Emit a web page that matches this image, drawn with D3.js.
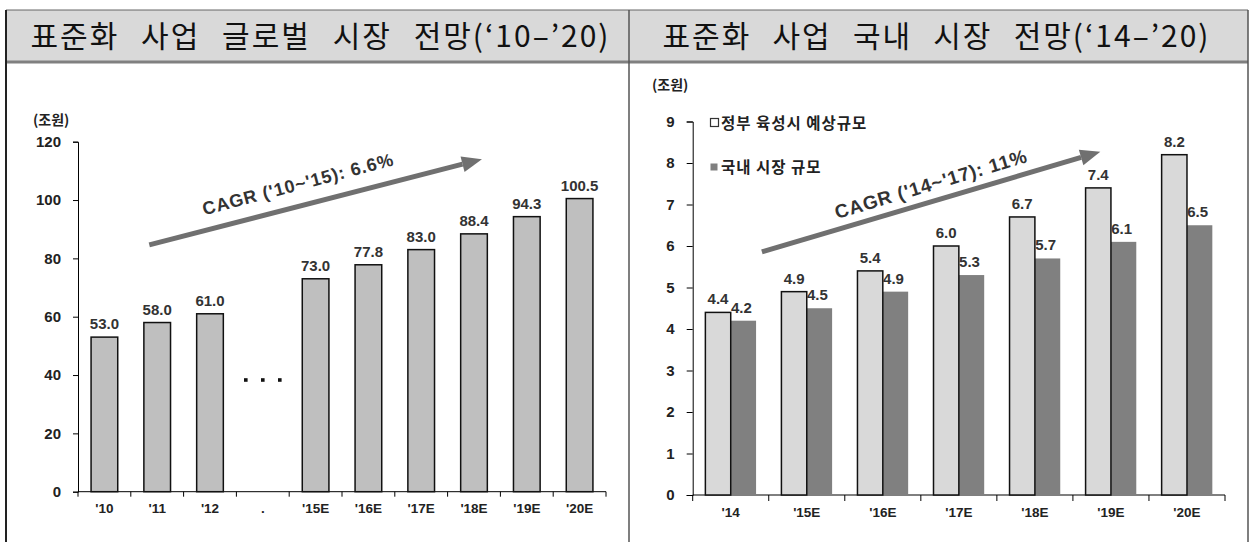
<!DOCTYPE html>
<html>
<head>
<meta charset="utf-8">
<script src="https://cdn.jsdelivr.net/npm/d3@7"></script>
<style>
  body { margin: 0; background: #fff; }
  svg text { font-family: "Liberation Sans", Arial, sans-serif; }
  .kr { font-family: "Noto Sans CJK KR", "Noto Sans", sans-serif; }
</style>
</head>
<body>
<script>
//Left chart data (global market)
var globalCats = ["'10", "'11", "'12", ".", "'15E", "'16E", "'17E", "'18E", "'19E", "'20E"];
var globalVals = [53.0, 58.0, 61.0, null, 73.0, 77.8, 83.0, 88.4, 94.3, 100.5];
var globalTicks = [0, 20, 40, 60, 80, 100, 120];

//Right chart data (domestic market)
var domCats = ["'14", "'15E", "'16E", "'17E", "'18E", "'19E", "'20E"];
var domPlan = [4.4, 4.9, 5.4, 6.0, 6.7, 7.4, 8.2];
var domMarket = [4.2, 4.5, 4.9, 5.3, 5.7, 6.1, 6.5];
var domTicks = [0, 1, 2, 3, 4, 5, 6, 7, 8, 9];

//Titles and legend
var titles = ["표준화 사업 글로벌 시장 전망(‘10–’20)", "표준화 사업 국내 시장 전망(‘14–’20)"];
var legendNames = ["정부 육성시 예상규모", "국내 시장 규모"];

//Define SVG
var W = 1250, H = 542;
var svg = d3.select("body").append("svg")
    .attr("width", W)
    .attr("height", H);

//Frame and header
var headTop = 10, headBot = 62, leftEdge = 6, midX = 629, rightEdge = 1248;
svg.append("rect")
    .attr("x", leftEdge).attr("y", headTop)
    .attr("width", rightEdge - leftEdge).attr("height", headBot - headTop)
    .attr("fill", "#d9d9d9");
svg.append("line")
    .attr("x1", leftEdge).attr("x2", rightEdge).attr("y1", headTop).attr("y2", headTop)
    .attr("stroke", "#666").attr("stroke-width", 1);
svg.append("line")
    .attr("x1", leftEdge).attr("x2", rightEdge).attr("y1", headBot).attr("y2", headBot)
    .attr("stroke", "#808080").attr("stroke-width", 3);
[leftEdge, midX, rightEdge].forEach(function(x, i) {
  svg.append("line")
      .attr("x1", x).attr("x2", x).attr("y1", headTop).attr("y2", H)
      .attr("stroke", i == 0 ? "#222" : "#555").attr("stroke-width", i == 0 ? 2 : 1.5);
});
//Title texts, word spacing stretched to the wanted width
var titleCx = [(leftEdge + midX) / 2 + 3, (midX + rightEdge) / 2 - 2];
var titleLen = [580, 548];
titles.forEach(function(t, i) {
  var tt = svg.append("text")
      .attr("class", "kr")
      .attr("x", titleCx[i]).attr("y", 47)
      .attr("text-anchor", "middle")
      .attr("font-size", 30)
      .attr("letter-spacing", 2)
      .attr("fill", "#111")
      .text(t);
  var nat = tt.node().getComputedTextLength();
  var nSp = t.split(" ").length - 1;
  tt.attr("word-spacing", Math.max(0, (titleLen[i] - nat) / nSp));
});

//Arrow drawing helper
function drawArrow(g, x0, y0, x1, y1) {
  var ang = Math.atan2(y1 - y0, x1 - x0);
  var hl = 20, hw = 8;
  var bx = x1 - hl * Math.cos(ang), by = y1 - hl * Math.sin(ang);
  g.append("line")
      .attr("x1", x0).attr("y1", y0).attr("x2", bx).attr("y2", by)
      .attr("stroke", "#707070").attr("stroke-width", 5);
  var px = -Math.sin(ang) * hw, py = Math.cos(ang) * hw;
  g.append("path")
      .attr("d", "M" + x1 + "," + y1 + "L" + (bx + px) + "," + (by + py) + "L" + (bx - px) + "," + (by - py) + "Z")
      .attr("fill", "#707070");
}

// ---------------- Left chart ----------------
var gL = svg.append("g");
var xL = d3.scaleBand().domain(globalCats).range([78, 606]).padding(0);
var xLi = d3.scaleLinear().domain([0, globalCats.length]).range([78, 606]);
var yL = d3.scaleLinear().domain([0, 120]).range([491.7, 141.7]);

//Y axis
gL.append("g")
    .attr("transform", "translate(78,0)")
    .call(d3.axisLeft(yL).tickValues(globalTicks).tickSize(5).tickPadding(12))
    .call(function(g) {
      g.select(".domain").attr("stroke", "#000");
      g.selectAll("text").attr("font-size", 15).attr("font-weight", "bold").attr("fill", "#222")
          .attr("font-family", "Liberation Sans, Arial, sans-serif");
    });
//X axis line with boundary ticks
gL.append("line")
    .attr("x1", 78).attr("x2", 606).attr("y1", yL(0)).attr("y2", yL(0))
    .attr("stroke", "#000");
gL.selectAll(".xtick")
    .data(d3.range(globalCats.length + 1))
    .enter().append("line")
    .attr("x1", function(d) { return xLi(d); })
    .attr("x2", function(d) { return xLi(d); })
    .attr("y1", yL(0)).attr("y2", yL(0) + 5)
    .attr("stroke", "#000");
gL.selectAll(".xlab")
    .data(globalCats)
    .enter().append("text")
    .attr("x", function(d) { return xL(d) + xL.bandwidth() / 2; })
    .attr("y", 513)
    .attr("text-anchor", "middle")
    .attr("font-size", 13.5).attr("font-weight", "bold").attr("fill", "#222")
    .text(function(d) { return d; });

//Bars
var bwL = xL.bandwidth() * 0.505;
var leftData = globalCats.map(function(c, i) { return {cat: c, v: globalVals[i]}; })
    .filter(function(d) { return d.v != null; });
gL.selectAll(".bar")
    .data(leftData)
    .enter().append("rect")
    .attr("x", function(d) { return xL(d.cat) + (xL.bandwidth() - bwL) / 2; })
    .attr("y", function(d) { return yL(d.v); })
    .attr("width", bwL)
    .attr("height", function(d) { return yL(0) - yL(d.v); })
    .attr("fill", "#bfbfbf").attr("stroke", "#111").attr("stroke-width", 1.5);
gL.selectAll(".val")
    .data(leftData)
    .enter().append("text")
    .attr("x", function(d) { return xL(d.cat) + xL.bandwidth() / 2; })
    .attr("y", function(d) { return yL(d.v) - 8; })
    .attr("text-anchor", "middle")
    .attr("font-size", 15).attr("font-weight", "bold").attr("fill", "#333")
    .text(function(d) { return d.v.toFixed(1); });

//Break dots in the gap
var gapC = xL(".") + xL.bandwidth() / 2;
gL.selectAll(".dot")
    .data([-17, 0, 17])
    .enter().append("rect")
    .attr("x", function(d) { return gapC + d - 1.8; })
    .attr("y", yL(38.3) - 1.8)
    .attr("width", 3.6).attr("height", 3.6)
    .attr("fill", "#111");

//Unit
gL.append("text")
    .attr("class", "kr")
    .attr("x", 33).attr("y", 125)
    .attr("font-size", 14).attr("font-weight", "bold").attr("fill", "#222")
    .text("(조원)");

//CAGR arrow
drawArrow(gL, xLi(1.35), yL(84.6), xLi(7.65), yL(114));
gL.append("text")
    .attr("transform", "translate(298,184) rotate(-14.8)")
    .attr("text-anchor", "middle")
    .attr("dy", "0.35em")
    .attr("font-size", 18).attr("font-weight", "bold").attr("fill", "#333")
    .attr("letter-spacing", 0.8)
    .text("CAGR ('10~'15): 6.6%");

// ---------------- Right chart ----------------
var gR = svg.append("g");
var xR = d3.scaleBand().domain(domCats).range([692.7, 1225]).padding(0);
var xRi = d3.scaleLinear().domain([0, domCats.length]).range([692.7, 1225]);
var yR = d3.scaleLinear().domain([0, 9]).range([495, 121.5]);

gR.append("g")
    .attr("transform", "translate(692.7,0)")
    .call(d3.axisLeft(yR).tickValues(domTicks).tickSize(6).tickPadding(12))
    .call(function(g) {
      g.select(".domain").attr("stroke", "#000");
      g.selectAll("text").attr("font-size", 15).attr("font-weight", "bold").attr("fill", "#222")
          .attr("font-family", "Liberation Sans, Arial, sans-serif");
    });
gR.append("line")
    .attr("x1", 692.7).attr("x2", 1225).attr("y1", yR(0)).attr("y2", yR(0))
    .attr("stroke", "#000");
gR.selectAll(".xtick")
    .data(d3.range(domCats.length + 1))
    .enter().append("line")
    .attr("x1", function(d) { return xRi(d); })
    .attr("x2", function(d) { return xRi(d); })
    .attr("y1", yR(0)).attr("y2", yR(0) + 6)
    .attr("stroke", "#000");
gR.selectAll(".xlab")
    .data(domCats)
    .enter().append("text")
    .attr("x", function(d) { return xR(d) + xR.bandwidth() / 2; })
    .attr("y", 517)
    .attr("text-anchor", "middle")
    .attr("font-size", 13.5).attr("font-weight", "bold").attr("fill", "#222")
    .text(function(d) { return d; });

//Grouped bars
var bwR = xR.bandwidth() / 3;
var rightData = domCats.map(function(c, i) { return {cat: c, plan: domPlan[i], mkt: domMarket[i]}; });
var grp = gR.selectAll(".grp")
    .data(rightData)
    .enter().append("g");
grp.append("rect")
    .attr("x", function(d) { return xR(d.cat) + xR.bandwidth() / 2; })
    .attr("y", function(d) { return yR(d.mkt); })
    .attr("width", bwR)
    .attr("height", function(d) { return yR(0) - yR(d.mkt); })
    .attr("fill", "#808080");
grp.append("rect")
    .attr("x", function(d) { return xR(d.cat) + xR.bandwidth() / 2 - bwR; })
    .attr("y", function(d) { return yR(d.plan); })
    .attr("width", bwR)
    .attr("height", function(d) { return yR(0) - yR(d.plan); })
    .attr("fill", "#d9d9d9").attr("stroke", "#111").attr("stroke-width", 1.5);
grp.append("text")
    .attr("x", function(d) { return xR(d.cat) + xR.bandwidth() / 2 - bwR / 2; })
    .attr("y", function(d) { return yR(d.plan) - 8; })
    .attr("text-anchor", "middle")
    .attr("font-size", 15).attr("font-weight", "bold").attr("fill", "#333")
    .text(function(d) { return d.plan.toFixed(1); });
grp.append("text")
    .attr("x", function(d) { return xR(d.cat) + xR.bandwidth() / 2 + bwR / 2 - 2; })
    .attr("y", function(d) { return yR(d.mkt) - 8; })
    .attr("text-anchor", "middle")
    .attr("font-size", 15).attr("font-weight", "bold").attr("fill", "#333")
    .text(function(d) { return d.mkt.toFixed(1); });

//Unit
gR.append("text")
    .attr("class", "kr")
    .attr("x", 652).attr("y", 90)
    .attr("font-size", 14).attr("font-weight", "bold").attr("fill", "#222")
    .text("(조원)");

//Legend
var legY = [123, 167];
legendNames.forEach(function(n, i) {
  if (i == 0) {
    gR.append("rect").attr("x", 710.5).attr("y", legY[i] - 4.5).attr("width", 8).attr("height", 8)
        .attr("fill", "#fff").attr("stroke", "#333").attr("stroke-width", 1.2);
  } else {
    gR.append("rect").attr("x", 710.5).attr("y", legY[i] - 3.5).attr("width", 7).attr("height", 7)
        .attr("fill", "#808080");
  }
  gR.append("text")
      .attr("class", "kr")
      .attr("x", 721).attr("y", legY[i] + 5.5)
      .attr("font-size", 15.5).attr("font-weight", "bold").attr("fill", "#222")
      .attr("letter-spacing", 1)
      .text(n);
});

//CAGR arrow
drawArrow(gR, xRi(0.91), yR(5.86), xRi(5.36), yR(8.27));
gR.append("text")
    .attr("transform", "translate(931,184) rotate(-16.7)")
    .attr("text-anchor", "middle")
    .attr("dy", "0.35em")
    .attr("font-size", 19).attr("font-weight", "bold").attr("fill", "#333")
    .attr("letter-spacing", 0.8)
    .text("CAGR ('14~'17): 11%");
</script>
</body>
</html>
